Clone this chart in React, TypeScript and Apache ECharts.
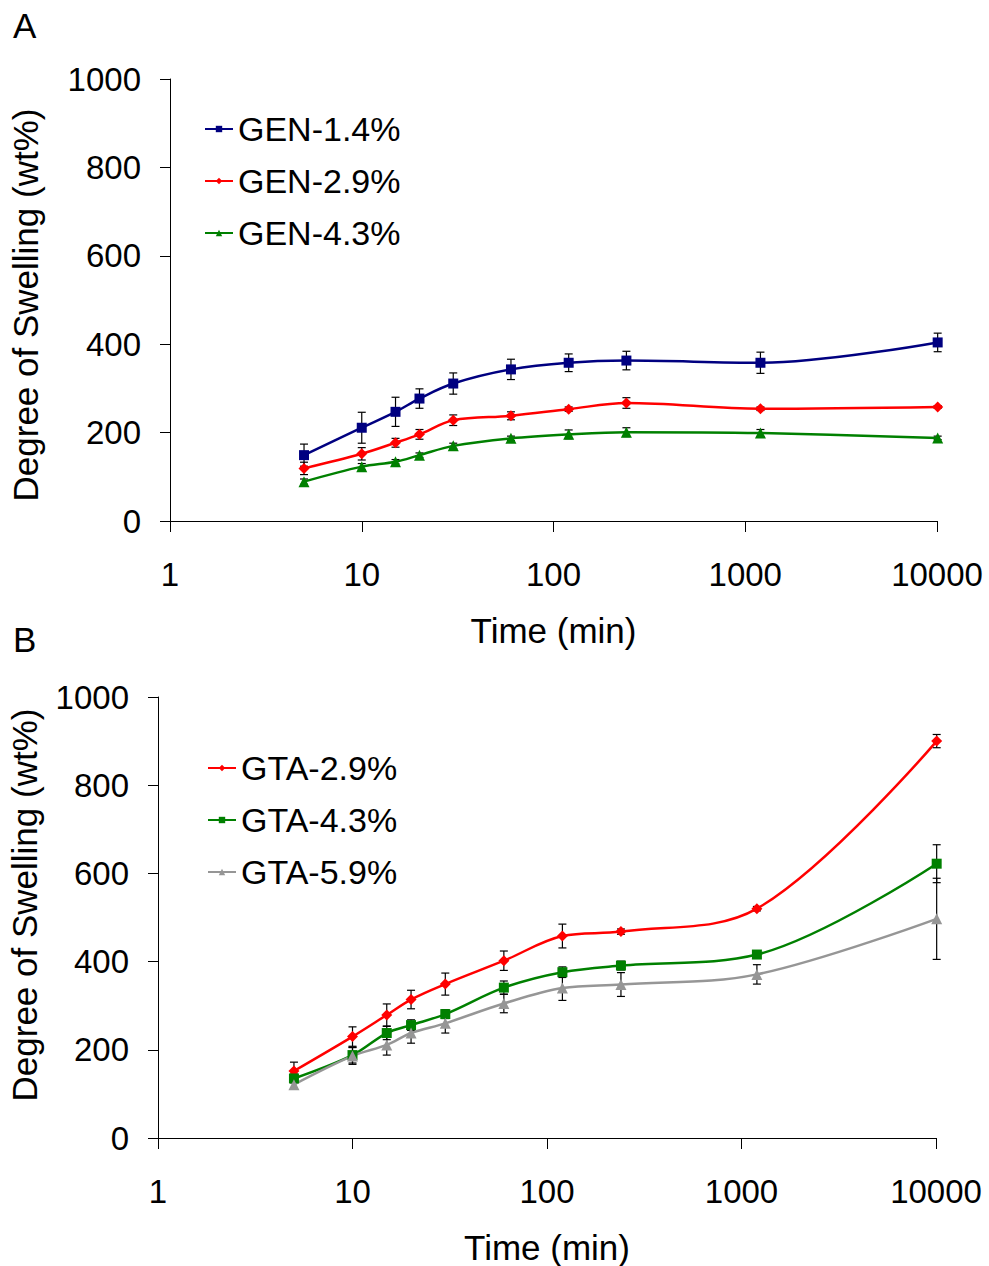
import React, { useEffect, useRef } from "react";
import * as echarts from "echarts";

// Time points (min)
const times = [5, 10, 15, 20, 30, 60, 120, 240, 1200, 10080];
const xTicks = [1, 10, 100, 1000, 10000];

// Panel A
const gen14 = [149, 211, 247, 277, 311, 343, 358, 363, 358, 404];
const gen14Err = [25, 35, 33, 22, 24, 23, 20, 21, 24, 21];
const gen29 = [119, 152, 177, 196, 228, 238, 253, 267, 254, 258];
const gen29Err = [14, 14, 10, 11, 12, 9, 5, 12, 4, 3];
const gen43 = [89, 123, 134, 149, 170, 187, 196, 201, 199, 188];
const gen43Err = [6, 7, 5, 5, 6, 5, 10, 10, 8, 4];

// Panel B
const gta29 = [152, 230, 279, 314, 349, 402, 458, 468, 520, 900];
const gta29Err = [20, 22, 25, 21, 25, 22, 27, 6, 5, 15];
const gta43 = [135, 188, 238, 256, 281, 341, 376, 391, 416, 622];
const gta43Err = [10, 18, 15, 12, 10, 15, 12, 10, 5, 43];
const gta59 = [121, 186, 211, 238, 260, 305, 340, 348, 371, 497];
const gta59Err = [10, 19, 23, 23, 22, 21, 28, 27, 22, 92];

const FONT = "'Liberation Sans', Arial, Helvetica, sans-serif";

type S = { name: string; vals: number[]; err: number[]; color: string; symbol: string; size: number; grid: number };

const seriesDefs: S[] = [
  { name: "GEN-1.4%", vals: gen14, err: gen14Err, color: "#000080", symbol: "rect", size: 10, grid: 0 },
  { name: "GEN-2.9%", vals: gen29, err: gen29Err, color: "#FF0000", symbol: "diamond", size: 11, grid: 0 },
  { name: "GEN-4.3%", vals: gen43, err: gen43Err, color: "#008000", symbol: "triangle", size: 11, grid: 0 },
  { name: "GTA-2.9%", vals: gta29, err: gta29Err, color: "#FF0000", symbol: "diamond", size: 11, grid: 1 },
  { name: "GTA-4.3%", vals: gta43, err: gta43Err, color: "#008000", symbol: "rect", size: 10, grid: 1 },
  { name: "GTA-5.9%", vals: gta59, err: gta59Err, color: "#969696", symbol: "triangle", size: 11, grid: 1 },
];

function makeXAxis(gridIndex: number) {
  return {
    type: "log",
    logBase: 10,
    gridIndex,
    min: 1,
    max: 10000,
    name: "Time (min)",
    nameLocation: "middle",
    nameGap: 92,
    nameTextStyle: { fontSize: 35, color: "#000", fontFamily: FONT },
    axisLine: { show: true, lineStyle: { color: "#000", width: 1 } },
    axisTick: { show: true, inside: false, length: 11, lineStyle: { color: "#000", width: 1 } },
    minorTick: { show: false },
    splitLine: { show: false },
    axisLabel: {
      fontSize: 33,
      color: "#000",
      fontFamily: FONT,
      margin: 37,
      formatter: (v: number) => {
        const r = Math.round(v);
        return xTicks.includes(r) ? String(r) : "";
      },
    },
  };
}

function makeYAxis(gridIndex: number) {
  return {
    type: "value",
    gridIndex,
    min: 0,
    max: 1000,
    interval: 200,
    axisLine: { show: true, lineStyle: { color: "#000", width: 1 } },
    axisTick: { show: true, inside: false, length: 10, lineStyle: { color: "#000", width: 1 } },
    splitLine: { show: false },
    axisLabel: {
      fontSize: 33,
      color: "#000",
      fontFamily: FONT,
      margin: 29,
      formatter: (v: number) => String(Math.round(v)),
    },
  };
}

export default function App() {
  const ref = useRef<HTMLDivElement>(null);
  useEffect(() => {
    document.body.style.margin = "0";
    if (!ref.current) return;
    const chart = echarts.init(ref.current, null, { renderer: "svg" });

    const series: any[] = [];
    seriesDefs.forEach((d) => {
      series.push({
        name: d.name,
        type: "line",
        xAxisIndex: d.grid,
        yAxisIndex: d.grid,
        data: times.map((t, i) => [t, d.vals[i]]),
        smooth: 0.35,
        clip: false,
        symbol: d.symbol,
        symbolSize: d.size,
        showSymbol: true,
        lineStyle: { color: d.color, width: 2.5 },
        itemStyle: { color: d.color },
        z: 3,
      });
      series.push({
        name: d.name + " err",
        type: "custom",
        xAxisIndex: d.grid,
        yAxisIndex: d.grid,
        clip: false,
        data: times.map((t, i) => [t, d.vals[i] - d.err[i], d.vals[i] + d.err[i]]),
        encode: { x: 0, y: [1, 2] },
        z: 2,
        silent: true,
        renderItem: (params: any, api: any) => {
          const x = api.value(0);
          const lo = api.coord([x, api.value(1)]);
          const hi = api.coord([x, api.value(2)]);
          const w = 4;
          const st = { stroke: "#000", lineWidth: 1.2 };
          return {
            type: "group",
            children: [
              { type: "line", shape: { x1: lo[0], y1: lo[1], x2: hi[0], y2: hi[1] }, style: st },
              { type: "line", shape: { x1: lo[0] - w, y1: lo[1], x2: lo[0] + w, y2: lo[1] }, style: st },
              { type: "line", shape: { x1: hi[0] - w, y1: hi[1], x2: hi[0] + w, y2: hi[1] }, style: st },
            ],
          };
        },
      });
    });

    const legendCommon = {
      orient: "vertical",
      padding: 0,
      itemWidth: 28,
      itemHeight: 8,
      itemGap: 12,
      textStyle: { fontSize: 34, color: "#000", fontFamily: FONT, lineHeight: 40 },
      selectedMode: false,
    };

    const option: any = {
      animation: false,
      backgroundColor: "#fff",
      grid: [
        { left: 170, top: 79, width: 767, height: 442 },
        { left: 158, top: 697, width: 778, height: 442 },
      ],
      xAxis: [makeXAxis(0), makeXAxis(1)],
      yAxis: [makeYAxis(0), makeYAxis(1)],
      legend: [
        { ...legendCommon, left: 204, top: 109, data: ["GEN-1.4%", "GEN-2.9%", "GEN-4.3%"] },
        { ...legendCommon, left: 207, top: 748, data: ["GTA-2.9%", "GTA-4.3%", "GTA-5.9%"] },
      ],
      graphic: [
        { type: "text", left: 13, top: 8, style: { text: "A", font: `35px ${FONT}`, fill: "#000" } },
        { type: "text", left: 13, top: 622, style: { text: "B", font: `35px ${FONT}`, fill: "#000" } },
        {
          type: "text",
          x: 25,
          y: 305,
          rotation: Math.PI / 2,
          style: { text: "Degree of Swelling (wt%)", font: `35px ${FONT}`, fill: "#000", align: "center", verticalAlign: "middle" },
        },
        {
          type: "text",
          x: 24,
          y: 905,
          rotation: Math.PI / 2,
          style: { text: "Degree of Swelling (wt%)", font: `35px ${FONT}`, fill: "#000", align: "center", verticalAlign: "middle" },
        },
      ],
      series,
    };
    chart.setOption(option);
    return () => chart.dispose();
  }, []);
  return <div ref={ref} style={{ width: 989, height: 1266 }} />;
}
